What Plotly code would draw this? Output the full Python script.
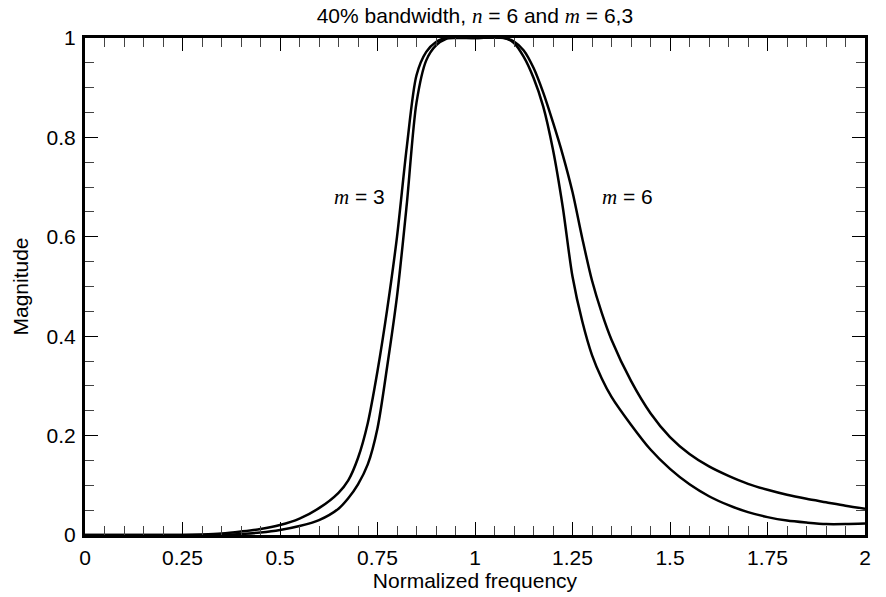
import plotly.graph_objects as go

# Outer (wider) response curve
x_outer = [0, 0.25, 0.30, 0.35, 0.40, 0.45, 0.50, 0.55, 0.60, 0.65, 0.675, 0.70, 0.725, 0.75,
           0.775, 0.80, 0.825, 0.85, 0.875, 0.90, 0.925, 1.0, 1.075, 1.10, 1.125, 1.15, 1.175,
           1.20, 1.225, 1.25, 1.275, 1.30, 1.325, 1.35, 1.40, 1.45, 1.50, 1.55, 1.60, 1.65,
           1.70, 1.75, 1.80, 1.85, 1.90, 1.95, 2.00]
y_outer = [0, 0, 0.001, 0.003, 0.007, 0.012, 0.020, 0.033, 0.054, 0.085, 0.110, 0.155, 0.225, 0.330,
           0.455, 0.600, 0.780, 0.925, 0.972, 0.992, 1.0, 1.0, 1.0, 0.993, 0.975, 0.940, 0.890,
           0.830, 0.765, 0.690, 0.597, 0.512, 0.447, 0.393, 0.310, 0.245, 0.197, 0.163, 0.138, 0.119,
           0.103, 0.091, 0.081, 0.073, 0.066, 0.059, 0.053]

# Inner (narrower) response curve
x_inner = [0, 0.30, 0.35, 0.40, 0.45, 0.50, 0.55, 0.60, 0.65, 0.675, 0.70, 0.725, 0.75, 0.775,
           0.80, 0.825, 0.85, 0.875, 0.90, 0.925, 0.95, 1.0, 1.075, 1.10, 1.125, 1.15, 1.175,
           1.20, 1.225, 1.25, 1.275, 1.30, 1.325, 1.35, 1.40, 1.45, 1.50, 1.55, 1.60, 1.65,
           1.70, 1.75, 1.80, 1.85, 1.90, 1.95, 2.00]
y_inner = [0, 0, 0.0005, 0.002, 0.005, 0.010, 0.018, 0.030, 0.053, 0.074, 0.102, 0.142, 0.215, 0.340,
           0.480, 0.665, 0.870, 0.955, 0.985, 0.998, 1.0, 1.0, 1.0, 0.990, 0.962, 0.920, 0.862,
           0.775, 0.660, 0.520, 0.430, 0.362, 0.315, 0.278, 0.222, 0.172, 0.133, 0.102, 0.078, 0.060,
           0.046, 0.036, 0.029, 0.025, 0.022, 0.022, 0.023]

labels = ["<i>m</i> = 3", "<i>m</i> = 6"]
label_x = [0.703, 1.391]
label_y = [0.68, 0.68]

SANS = "Liberation Sans, Arial, Helvetica, sans-serif"
SERIF = "Liberation Serif"
FS = 21

def mathify(s):
    return s.replace("<i>", f"<span style='font-family:{SERIF}'><i>").replace("</i>", "</i></span>")

fig = go.Figure()
for xs, ys in [(x_outer, y_outer), (x_inner, y_inner)]:
    fig.add_trace(go.Scatter(x=xs, y=ys, mode="lines",
                             line=dict(color="black", width=2.5, shape="spline", smoothing=0.8),
                             hoverinfo="skip", showlegend=False))

for t, lx, ly in zip(labels, label_x, label_y):
    fig.add_annotation(x=lx, y=ly, text=mathify(t), showarrow=False,
                       font=dict(family=SANS, size=FS, color="black"),
                       xanchor="center", yanchor="middle")

axis_common = dict(
    showgrid=False, zeroline=False, showline=True, linewidth=3, linecolor="black",
    mirror="allticks", ticks="inside", ticklen=13, tickwidth=1, tickcolor="black",
    tickfont=dict(family=SANS, size=FS, color="black"),
    title_font=dict(family=SANS, size=FS, color="black"),
)

fig.update_xaxes(range=[0, 2], tick0=0, dtick=0.25,
                 minor=dict(tick0=0, dtick=0.05, ticks="inside", ticklen=9, tickwidth=1, tickcolor="#444"),
                 title_text="Normalized frequency", title_standoff=0, ticklabelstandoff=2, **axis_common)
fig.update_yaxes(range=[0, 1], tick0=0, dtick=0.2,
                 minor=dict(tick0=0, dtick=0.05, ticks="inside", ticklen=9, tickwidth=1, tickcolor="#444"),
                 title_text="Magnitude", title_standoff=13, ticklabelstandoff=2, **axis_common)

fig.update_layout(
    width=886, height=597,
    margin=dict(l=85, r=21, t=38, b=62),
    plot_bgcolor="white", paper_bgcolor="white",
    title=dict(text=mathify("40% bandwidth, <i>n</i> = 6 and <i>m</i> = 6,3"),
               x=0.536, xanchor="center", y=0.974, yanchor="middle", yref="container",
               font=dict(family=SANS, size=FS, color="black")),
)

fig.write_html("out.html")
